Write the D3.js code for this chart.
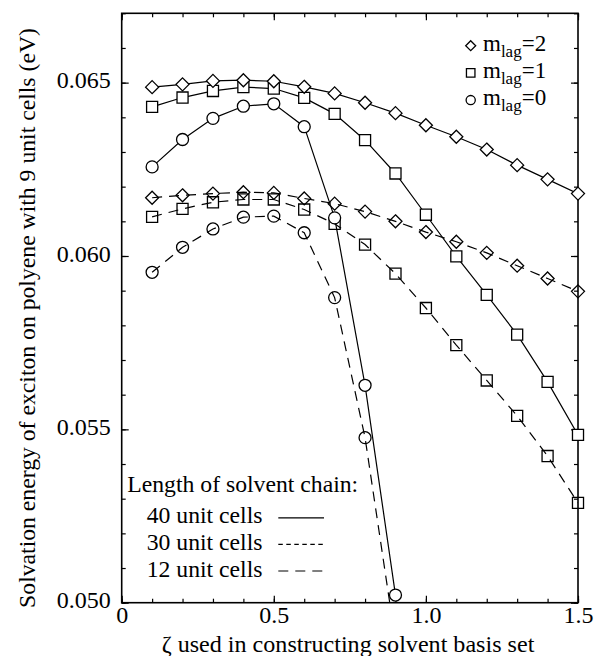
<!doctype html>
<meta charset='utf-8'>
<title>solvation energy vs zeta</title>

<style type="text/css">
	body { margin:0; background:#fff; }
	svg text { font-family:"Liberation Serif", "Times New Roman", Times, "DejaVu Serif", serif; fill:#000; }
	.axis path.domain { display:none; }
	.axis line { stroke:#000; stroke-width:1.2px; }
</style>

<div id='chart'></div>

<script src="https://cdnjs.cloudflare.com/ajax/libs/d3/7.8.5/d3.min.js" charset="utf-8"></script>
<script>

	// ζ values of the basis set
	var zeta = [0.1, 0.2, 0.3, 0.4, 0.5, 0.6, 0.7, 0.8, 0.9, 1.0, 1.1, 1.2, 1.3, 1.4, 1.5]

	// solvent chain of 40 unit cells (solid)
	var m2_40 = [0.06487, 0.06495, 0.06505, 0.06507, 0.06504, 0.06488, 0.06469, 0.06442, 0.06412, 0.06377, 0.06344, 0.06307, 0.06262, 0.06221, 0.06180]
	var m1_40 = [0.06430, 0.06457, 0.06476, 0.06487, 0.06483, 0.06456, 0.06410, 0.06334, 0.06238, 0.06119, 0.05999, 0.05888, 0.05773, 0.05637, 0.05484]
	var m0_40 = [0.06257, 0.06336, 0.06397, 0.06432, 0.06439, 0.06373, 0.06110, 0.05627, 0.05022]

	// solvent chain of 12 unit cells (long dash)
	var m2_12 = [0.06168, 0.06175, 0.06180, 0.06184, 0.06182, 0.06166, 0.06151, 0.06128, 0.06100, 0.06069, 0.06041, 0.06009, 0.05972, 0.05935, 0.05898]
	var m1_12 = [0.06113, 0.06136, 0.06155, 0.06163, 0.06163, 0.06134, 0.06093, 0.06033, 0.05949, 0.05850, 0.05743, 0.05641, 0.05539, 0.05423, 0.05288]
	var m0_12 = [0.05953, 0.06025, 0.06078, 0.06112, 0.06115, 0.06067, 0.05880, 0.05476, 0.04889]

	var xTicks = [0, 0.5, 1.0, 1.5]
	var xTickLabels = ['0', '0.5', '1.0', '1.5']
	var yTicks = [0.050, 0.055, 0.060, 0.065]
	var yTickLabels = ['0.050', '0.055', '0.060', '0.065']
	var mLags = [2, 1, 0]
	var chainLabels = ['40 unit cells', '30 unit cells', '12 unit cells']
	var chainDash = ['none', '4.5,3.5', '10,7']

	var W = 594, H = 656
	var L = 121.7, R = 578, T = 13.3, B = 602.7
	var FONT = '"Liberation Serif", "Times New Roman", Times, "DejaVu Serif", serif'

	var x = d3.scaleLinear().domain([0, 1.5]).range([L, R])
	var y = d3.scaleLinear().domain([0.050, 0.067]).range([B, T])

	var svg = d3.select('#chart').append('svg')
		.attr('width', W).attr('height', H)
		.attr('font-family', FONT)

	svg.append('clipPath').attr('id', 'plotclip')
		.append('rect').attr('x', L).attr('y', T).attr('width', R - L).attr('height', B - T)

	// marker shapes
	function markerPath(m, s) {
		if (m === 2) return 'M0,' + (-s) + 'L' + s + ',0L0,' + s + 'L' + (-s) + ',0Z'
		var h = s * 0.85
		return 'M' + (-h) + ',' + (-h) + 'H' + h + 'V' + h + 'H' + (-h) + 'Z'
	}

	// axes: ticks inside on all four sides
	var minorX = d3.range(0, 16).map(function(i){ return i / 10 })
	var minorY = d3.range(50, 68).map(function(i){ return i / 1000 })

	function addAxis(gen, transform, values, size, fmt) {
		var g = svg.append('g').attr('class', 'axis').attr('transform', transform)
		g.call(gen.tickValues(values).tickSize(size).tickFormat(fmt || ''))
		g.attr('font-family', FONT)
		return g
	}
	addAxis(d3.axisBottom(x), 'translate(0,' + B + ')', minorX, -4)
	addAxis(d3.axisTop(x), 'translate(0,' + T + ')', minorX, -4)
	addAxis(d3.axisLeft(y), 'translate(' + L + ',0)', minorY, -4)
	addAxis(d3.axisRight(y), 'translate(' + R + ',0)', minorY, -4)
	addAxis(d3.axisTop(x), 'translate(0,' + T + ')', xTicks, -7)
	addAxis(d3.axisRight(y), 'translate(' + R + ',0)', yTicks, -7)

	var xa = addAxis(d3.axisBottom(x).tickPadding(3), 'translate(0,' + B + ')', xTicks, -7,
		function(d, i){ return xTickLabels[i] })
	xa.selectAll('text').style('font-size', '24px').attr('fill', '#000')

	var ya = addAxis(d3.axisLeft(y).tickPadding(11), 'translate(' + L + ',0)', yTicks, -7,
		function(d, i){ return yTickLabels[i] })
	ya.selectAll('text').style('font-size', '24px').attr('fill', '#000').attr('dy', '0.22em')

	svg.append('rect')
		.attr('x', L).attr('y', T).attr('width', R - L).attr('height', B - T)
		.attr('fill', 'none').attr('stroke', '#000').attr('stroke-width', 1.6)

	// series
	var series = [
		{ m: 0, dash: chainDash[2], fill: 'none', values: m0_12 },
		{ m: 1, dash: chainDash[2], fill: 'none', values: m1_12 },
		{ m: 2, dash: chainDash[2], fill: 'none', values: m2_12 },
		{ m: 0, dash: chainDash[0], fill: '#fff', values: m0_40 },
		{ m: 1, dash: chainDash[0], fill: '#fff', values: m1_40 },
		{ m: 2, dash: chainDash[0], fill: '#fff', values: m2_40 }
	]

	var line = d3.line()
		.x(function(d){ return x(d[0]) })
		.y(function(d){ return y(d[1]) })

	var marks = svg.append('g')

	series.forEach(function(s) {
		var pts = s.values.map(function(v, i){ return [zeta[i], v] })
		var shown = pts.filter(function(d){ return d[1] >= y.domain()[0] })
		var g = marks.append('g')
		var path = g.append('path').datum(pts)
			.attr('d', line)
			.attr('fill', 'none').attr('stroke', '#000').attr('stroke-width', 1.2)
			.attr('stroke-dasharray', s.dash)
			.attr('clip-path', 'url(#plotclip)')
		var sel = g.selectAll('.mk').data(shown).enter()
		var mk
		if (s.m === 0) {
			mk = sel.append('circle')
				.attr('cx', function(d){ return x(d[0]) })
				.attr('cy', function(d){ return y(d[1]) })
				.attr('r', 6)
		} else {
			mk = sel.append('path')
				.attr('d', markerPath(s.m, 6.5))
				.attr('transform', function(d){ return 'translate(' + x(d[0]) + ',' + y(d[1]) + ')' })
		}
		mk.attr('fill', s.fill).attr('stroke', '#000').attr('stroke-width', 1.3)
		if (s.fill === 'none') path.raise()
	})

	// legend: m_lag
	var lg = svg.append('g')
	mLags.forEach(function(m, i) {
		var cy = 45.7 + i * 27.2
		if (m === 0) {
			lg.append('circle').attr('cx', 470.7).attr('cy', cy).attr('r', 4.6)
				.attr('fill', 'none').attr('stroke', '#000').attr('stroke-width', 1.3)
		} else {
			lg.append('path').attr('d', markerPath(m, 5))
				.attr('transform', 'translate(470.7,' + cy + ')')
				.attr('fill', 'none').attr('stroke', '#000').attr('stroke-width', 1.3)
		}
		var t = lg.append('text').attr('x', 483).attr('y', cy + 5).style('font-size', '23px')
		t.append('tspan').text('m')
		t.append('tspan').attr('dy', 6).style('font-size', '17px').text('lag')
		t.append('tspan').attr('dy', -6).text('=' + m)
	})

	// legend: chain length
	var cl = svg.append('g')
	cl.append('text').attr('x', 127.3).attr('y', 491.7).style('font-size', '23.7px')
		.text('Length of solvent chain:')
	chainLabels.forEach(function(lbl, i) {
		var by = 523.3 + i * 26.6
		cl.append('text').attr('x', 146.7).attr('y', by).style('font-size', '23.7px').text(lbl)
		cl.append('line').attr('x1', 278.3).attr('x2', 324).attr('y1', by - 5.5).attr('y2', by - 5.5)
			.attr('stroke', '#000').attr('stroke-width', 1.2)
			.attr('stroke-dasharray', chainDash[i])
	})

	// axis titles
	svg.append('text')
		.attr('x', 348).attr('y', 651.5)
		.attr('text-anchor', 'middle').style('font-size', '24.1px')
		.text('ζ used in constructing solvent basis set')

	svg.append('text')
		.attr('transform', 'translate(35,318) rotate(-90)')
		.attr('text-anchor', 'middle').style('font-size', '23.7px')
		.text('Solvation energy of exciton on polyene with  9 unit cells (eV)')

</script>
